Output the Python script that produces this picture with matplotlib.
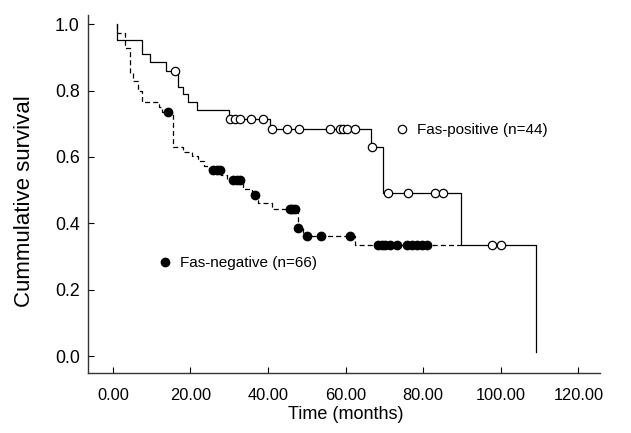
import numpy as np
import matplotlib
matplotlib.use("Agg")
import matplotlib.pyplot as plt
from matplotlib.lines import Line2D

plt.rcParams['font.family'] = ['Liberation Sans', 'DejaVu Sans']

# Fas-positive: event times (months) and survival after each drop
pos_times = [1.0, 7.4, 9.6, 13.7, 16.9, 18.2, 19.3, 21.8, 29.9, 40.5, 66.6, 69.6, 89.7, 109.1]
pos_surv = [0.952, 0.910, 0.885, 0.859, 0.811, 0.789, 0.766, 0.741, 0.714, 0.684, 0.631, 0.491, 0.334, 0.012]
pos_censor = [15.9, 30.2, 31.4, 32.7, 35.7, 38.7, 41.0, 45.0, 48.1, 56.0, 58.6, 59.4, 60.4, 62.4,
              66.9, 70.9, 76.0, 83.1, 85.2, 97.7, 100.0]

# Fas-negative
neg_times = [1.0, 3.2, 4.4, 5.2, 6.4, 7.6, 11.8, 12.7, 15.5, 18.2, 20.3, 22.0, 23.5, 24.8,
             28.0, 29.5, 33.5, 35.9, 37.5, 41.0, 47.6, 49.0, 62.4]
neg_surv = [0.972, 0.927, 0.852, 0.830, 0.800, 0.766, 0.750, 0.735, 0.631, 0.616, 0.603, 0.589,
            0.574, 0.560, 0.545, 0.530, 0.503, 0.485, 0.462, 0.442, 0.385, 0.363, 0.334]
neg_end = 89.7
neg_censor = [14.3, 25.9, 26.8, 27.7, 31.1, 32.0, 32.8, 36.7, 45.7, 46.3, 47.0, 47.8, 50.0, 53.6,
              61.2, 68.3, 69.3, 70.2, 71.5, 73.2, 75.9, 77.1, 78.4, 79.6, 81.1]

xticks = [0, 20, 40, 60, 80, 100, 120]
yticks = [0.0, 0.2, 0.4, 0.6, 0.8, 1.0]


def km_path(times, surv, end=None):
    xs = [times[0]]
    ys = [1.0]
    for t, s in zip(times, surv):
        xs.append(t)
        ys.append(s)
    if end is not None:
        xs.append(end)
        ys.append(ys[-1])
    return np.array(xs), np.array(ys)


def surv_at(times, surv, tc):
    idx = np.searchsorted(times, tc, side='right') - 1
    vals = np.array(surv)[np.clip(idx, 0, None)]
    vals[idx < 0] = 1.0
    return vals


fig = plt.figure(figsize=(6.31, 4.33), dpi=100)
ax = fig.add_axes([0.1395, 0.1386, 0.8115, 0.8264])

px, py = km_path(pos_times, pos_surv)
ax.step(px, py, where='post', color='black', lw=0.9)
ax.plot(pos_censor, surv_at(pos_times, pos_surv, pos_censor), 'o', ms=6,
        mfc='white', mec='black', mew=0.9, ls='none')

nx, ny = km_path(neg_times, neg_surv, end=neg_end)
ax.step(nx, ny, where='post', color='black', lw=0.9, dashes=(4, 2.5))
ax.plot(neg_censor, surv_at(neg_times, neg_surv, neg_censor), 'o', ms=6,
        mfc='black', mec='black', ls='none')

ax.set_xlim(-6.4, 125.6)
ax.set_ylim(-0.051, 1.027)
ax.set_xticks(xticks)
ax.set_xticklabels(['%.2f' % v for v in xticks])
ax.set_yticks(yticks)
ax.set_yticklabels(['%.1f' % v for v in yticks])
ax.tick_params(direction='in', length=4, width=0.8)
ax.tick_params(axis='x', pad=11, labelsize=11.8)
ax.tick_params(axis='y', pad=6, labelsize=12.8)
for side in ['top', 'right']:
    ax.spines[side].set_visible(False)
for side in ['left', 'bottom']:
    ax.spines[side].set_linewidth(1.0)
    ax.spines[side].set_color('#333333')

ax.set_xlabel('Time (months)', fontsize=13)
ax.set_ylabel('Cummulative survival', fontsize=16)
ax.xaxis.set_label_coords(0.503, -0.092)
ax.yaxis.set_label_coords(-0.104, 0.48)

h_pos = Line2D([], [], marker='o', ls='none', ms=6, mfc='white', mec='black', mew=0.9)
h_neg = Line2D([], [], marker='o', ls='none', ms=6, mfc='black', mec='black')
leg1 = ax.legend([h_pos], ['Fas-positive (n=44)'], loc='center left', bbox_to_anchor=(0.601, 0.679),
                 frameon=False, fontsize=11, handlelength=0.8, handletextpad=0.6, borderpad=0,
                 borderaxespad=0)
ax.add_artist(leg1)
ax.legend([h_neg], ['Fas-negative (n=66)'], loc='center left', bbox_to_anchor=(0.138, 0.307),
          frameon=False, fontsize=11, handlelength=0.8, handletextpad=0.6, borderpad=0,
          borderaxespad=0)

fig.savefig('out.png', dpi=100)
